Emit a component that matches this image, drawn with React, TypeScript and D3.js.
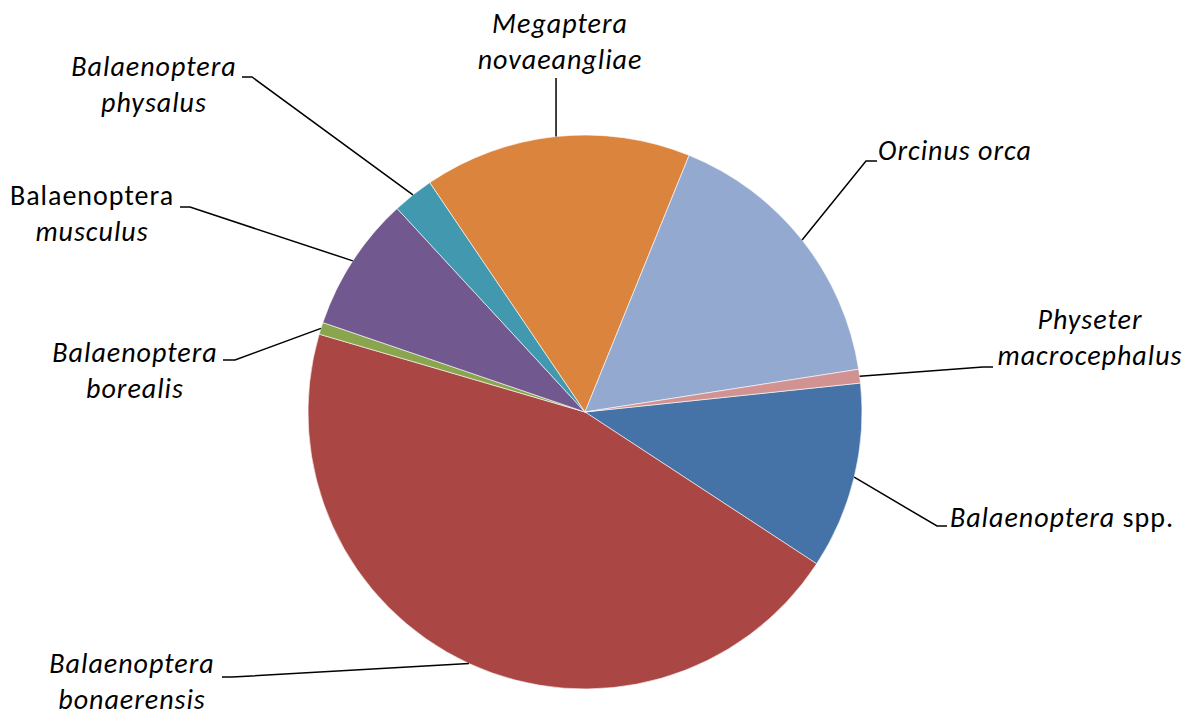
import * as d3 from "d3";

// slice data, clockwise from the first slice
const species = [
  "Balaenoptera spp.",
  "Balaenoptera bonaerensis",
  "Balaenoptera borealis",
  "Balaenoptera musculus",
  "Balaenoptera physalus",
  "Megaptera novaeangliae",
  "Orcinus orca",
  "Physeter macrocephalus",
];
const shares = [10.9, 45.3, 0.7, 7.9, 2.4, 15.6, 16.4, 0.8];
const sliceColors = [
  "#4572a7",
  "#aa4643",
  "#89a54e",
  "#71588f",
  "#4198af",
  "#db843d",
  "#93a9cf",
  "#d09392",
];

// label text: lines of [text, italic]
type Seg = [string, boolean];
const labelLines: Seg[][][] = [
  [[["Balaenoptera", true], [" spp.", false]]],
  [[["Balaenoptera", true]], [["bonaerensis", true]]],
  [[["Balaenoptera", true]], [["borealis", true]]],
  [[["Balaenoptera", false]], [["musculus", true]]],
  [[["Balaenoptera", true]], [["physalus", true]]],
  [[["Megaptera", true]], [["novaeangliae", true]]],
  [[["Orcinus orca", true]]],
  [[["Physeter", true]], [["macrocephalus", true]]],
];

// hand-placed label layout (Excel style): text centre x, first baseline, leader elbow and tick end
const labelLayout = [
  { cx: 1062, y: 527, elbow: [937, 526], end: [947, 526] },
  { cx: 132, y: 673, elbow: [232, 677], end: [222, 677] },
  { cx: 135, y: 362, elbow: [235, 360], end: [223, 360] },
  { cx: 92, y: 205, elbow: [190, 207], end: [180, 207] },
  { cx: 154, y: 76, elbow: [252, 77], end: [242, 77] },
  { cx: 560, y: 33, elbow: [null, 78], end: [null, 78] },
  { cx: 955, y: 160, elbow: [866, 161], end: [877, 161] },
  { cx: 1090, y: 329, elbow: [983, 367], end: [993, 367] },
];

const width = 1192;
const height = 716;
const cx = 585;
const cy = 412;
const radius = 277;
const startDeg = 84;
const lineGap = 36;

export default function App() {
  const pie = d3
    .pie<number>()
    .sort(null)
    .value((d) => d)
    .startAngle((startDeg * Math.PI) / 180)
    .endAngle((startDeg * Math.PI) / 180 + 2 * Math.PI);
  const arcs = pie(shares);
  const arc = d3.arc<d3.PieArcDatum<number>>().innerRadius(0).outerRadius(radius);

  return (
    <div style={{ position: "fixed", left: 0, top: 0, background: "#fff" }}>
      <svg width={width} height={height} viewBox={`0 0 ${width} ${height}`}>
        <rect width={width} height={height} fill="#fff" />
        <g transform={`translate(${cx},${cy})`}>
          {arcs.map((a, i) => (
            <path key={species[i]} d={arc(a) ?? ""} fill={sliceColors[i]} stroke="#fff" strokeWidth={0.6} />
          ))}
        </g>
        {arcs.map((a, i) => {
          const mid = (a.startAngle + a.endAngle) / 2;
          const ax = cx + radius * Math.sin(mid);
          const ay = cy - radius * Math.cos(mid);
          const lay = labelLayout[i];
          const ex = lay.elbow[0] ?? ax;
          const tx = lay.end[0] ?? ax;
          return (
            <path
              key={`lead-${i}`}
              d={`M${ax},${ay}L${ex},${lay.elbow[1]}L${tx},${lay.end[1]}`}
              fill="none"
              stroke="#000"
              strokeWidth={1.5}
            />
          );
        })}
        <g fontFamily="Carlito, Calibri, Lato, sans-serif" fontSize={28} letterSpacing={1} fill="#000">
          {labelLines.map((lines, i) => (
            <text key={`lab-${i}`} textAnchor="middle">
              {lines.map((segs, j) => (
                <tspan key={j} x={labelLayout[i].cx} y={labelLayout[i].y + j * lineGap}>
                  {segs.map(([t, it], k) => (
                    <tspan key={k} fontStyle={it ? "italic" : "normal"}>
                      {t}
                    </tspan>
                  ))}
                </tspan>
              ))}
            </text>
          ))}
        </g>
      </svg>
    </div>
  );
}
